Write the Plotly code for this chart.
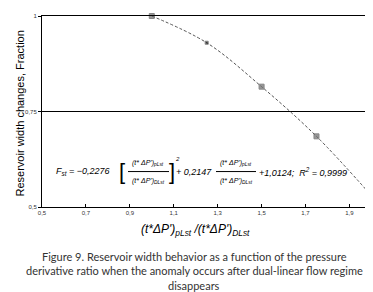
import plotly.graph_objects as go

# Data
ratio = [1.0, 1.25, 1.5, 1.75, 2.0]
width_frac = [1.0, 0.93, 0.815, 0.685, 0.53]
x_ticks = [0.5, 0.7, 0.9, 1.1, 1.3, 1.5, 1.7, 1.9]
x_tick_text = ["0,5", "0,7", "0,9", "1,1", "1,3", "1,5", "1,7", "1,9"]
y_ticks = [0.5, 0.75, 1.0]
y_tick_text = ["0,5", "0,75", "1"]

W, H = 373, 292
L, R, T, B = 34, 7, 5, 93
PW, PH = W - L - R, H - T - B

def px(x):
    return (x - L) / PW

def py(y):
    return (H - B - y) / PH

fig = go.Figure()
fig.add_trace(go.Scatter(
    x=ratio, y=width_frac, mode="lines+markers",
    line=dict(color="#555555", width=1, dash="3px,2px", shape="spline"),
    marker=dict(symbol="square", size=[5, 3, 5, 5, 5],
                color=["#6a6a6a", "#111111", "#6a6a6a", "#6a6a6a", "#6a6a6a"]),
    cliponaxis=False, showlegend=False,
))

eq_font = dict(family="Liberation Sans, Arial", size=9, color="black")
small = dict(family="Liberation Sans, Arial", size=7, color="black")
ann = []

def txt(text, x, y, font, xanchor="left", yanchor="middle", **kw):
    ann.append(dict(text=text, x=px(x), y=py(y), xref="paper", yref="paper",
                    xanchor=xanchor, yanchor=yanchor, showarrow=False, font=font, **kw))

num = "<i>(t* ΔP')<sub>pLst</sub></i>"
den = "<i>(t* ΔP')<sub>DLst</sub></i>"
txt("<i>F<sub>st</sub> = −0,2276</i>", 46, 163, eq_font)
txt("[", 114, 163, dict(family="Liberation Sans, Arial", size=22, color="black"), xanchor="center")
txt(num, 140, 154, small, xanchor="center")
txt(den, 140, 173, small, xanchor="center")
txt("]", 164, 163, dict(family="Liberation Sans, Arial", size=22, color="black"), xanchor="center")
txt("<i>2</i>", 169, 150, dict(family="Liberation Sans, Arial", size=6, color="black"), xanchor="center")
txt("<i>+ 0,2147</i>", 166, 163, eq_font)
txt(num, 228, 154, small, xanchor="center")
txt(den, 228, 173, small, xanchor="center")
txt("<i>+1,0124;  R<sup>2</sup> = 0,9999</i>", 249, 163, eq_font)

# axis titles
txt("Reservoir width changes, Fraction", 12, 104,
    dict(family="Liberation Sans, Arial", size=11, color="black"), xanchor="center", textangle=-90)
txt("<i>(t*ΔP')<sub>pLst</sub> /(t*ΔP')<sub>DLst</sub></i>", 187, 222,
    dict(family="Liberation Sans, Arial", size=12, color="black"), xanchor="center")

# caption
cap_font = dict(family="Lato, Noto Sans", size=11, color="#333333")
caption = ["Figure 9. Reservoir width behavior as a function of the pressure",
           "derivative ratio when the anomaly occurs after dual-linear flow regime",
           "disappears"]
for i, line in enumerate(caption):
    txt(line, 186, 249 + 15 * i, cap_font, xanchor="center")

shapes = [
    dict(type="line", xref="paper", yref="paper", x0=px(120), x1=px(161), y0=py(163), y1=py(163),
         line=dict(color="black", width=1)),
    dict(type="line", xref="paper", yref="paper", x0=px(208), x1=px(248), y0=py(163), y1=py(163),
         line=dict(color="black", width=1)),
]

fig.update_layout(
    width=W, height=H, margin=dict(l=L, r=R, t=T, b=B),
    paper_bgcolor="white", plot_bgcolor="white",
    separators=",.",
    annotations=ann, shapes=shapes,
    xaxis=dict(range=[0.5, 2.012], tickvals=x_ticks, ticktext=x_tick_text,
               showgrid=False, zeroline=False, showline=True, linecolor="black", linewidth=1,
               mirror=True, ticks="inside", ticklen=3, tickcolor="black",
               tickfont=dict(family="Liberation Sans, Arial", size=6, color="#333333")),
    yaxis=dict(range=[0.5, 1.0], tickvals=y_ticks, ticktext=y_tick_text,
               showgrid=True, gridcolor="black", gridwidth=1, zeroline=False,
               showline=True, linecolor="black", linewidth=1, mirror=True,
               ticks="outside", ticklen=3, tickcolor="black",
               tickfont=dict(family="Liberation Sans, Arial", size=6, color="#333333")),
)

fig.write_html("out.html")
